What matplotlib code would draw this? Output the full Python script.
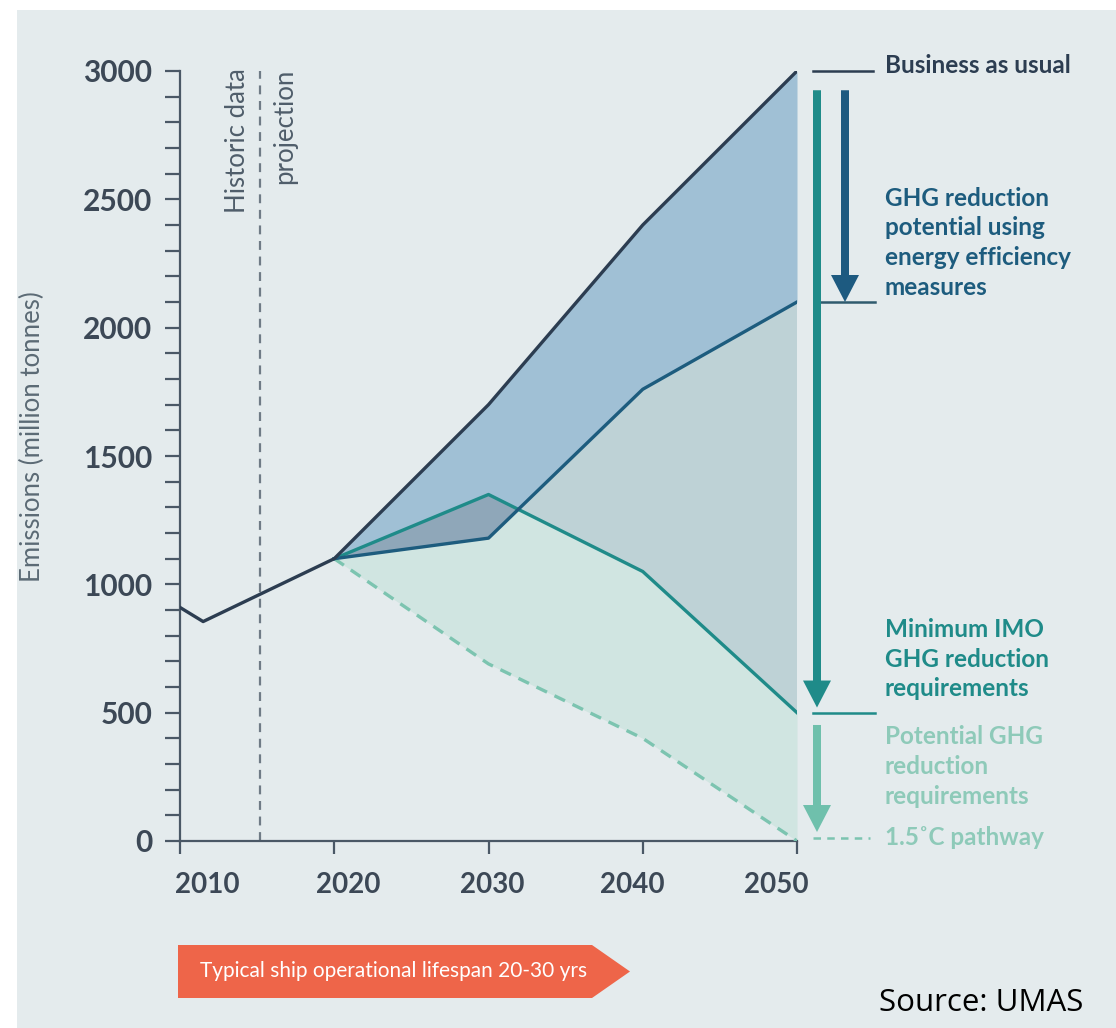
import numpy as np
import matplotlib
matplotlib.use("Agg")
import matplotlib.pyplot as plt
from matplotlib.patches import Rectangle, Polygon, FancyArrow
from matplotlib.transforms import ScaledTranslation

plt.rcParams["font.family"] = ["Lato", "DejaVu Sans"]

############### DATA ################
hist_years = [2010, 2011.5, 2020]
hist_vals = [910, 855, 1100]

proj_years = [2020, 2030, 2040, 2050]
bau = [1100, 1700, 2400, 3000]          # business as usual
efficiency = [1100, 1180, 1760, 2100]   # with energy efficiency measures
imo_min = [1100, 1350, 1050, 500]       # minimum IMO requirement
pathway_15 = [1100, 690, 400, 0]        # 1.5C pathway

divider_year = 2015.2
x_ticks = [2010, 2020, 2030, 2040, 2050]
y_ticks = [0, 500, 1000, 1500, 2000, 2500, 3000]

############### COLOURS ################
bg = "#e4ebed"
navy = "#2c3d51"
blue = "#1d5c7e"
teal = "#1f8b89"
green = "#7cc4b0"
green_txt = "#8ecab9"
axis_col = "#4a5866"

W, H = 1116, 1028
fig = plt.figure(figsize=(W / 100, H / 100), dpi=100, facecolor="white")

# light panel behind everything
fig.patches.append(Rectangle((17 / W, 0), 1, (H - 10) / H, transform=fig.transFigure,
                             facecolor=bg, edgecolor="none", zorder=-10))

ax = fig.add_axes([180 / W, (H - 841) / H, (797 - 180) / W, 770 / H])
ax.set_facecolor("none")

px = np.array(proj_years, dtype=float)
b = np.array(bau, dtype=float)
e = np.array(efficiency, dtype=float)
m = np.array(imo_min, dtype=float)
p = np.array(pathway_15, dtype=float)

# shaded bands (later ones paint over earlier ones)
ax.fill_between(px, p, m, color="#d0e5e1", lw=0, zorder=1)
ax.fill_between(px, e, b, color="#a0c0d5", lw=0, zorder=1)
ax.fill_between(px, e, m, where=m >= e, interpolate=True, color="#8fa7b9", lw=0, zorder=1)
ax.fill_between(px, m, e, where=e >= m, interpolate=True, color="#bed2d6", lw=0, zorder=1)

# lines
ax.plot(px, p, color=green, lw=2.4, ls=(0, (3.5, 2.5)), zorder=3)
ax.plot(px, m, color=teal, lw=2.4, zorder=4)
ax.plot(px, e, color=blue, lw=2.4, zorder=5)
ax.plot(hist_years + proj_years[1:], hist_vals + bau[1:], color=navy, lw=2.4, zorder=6)

# historic / projection divider
ax.axvline(divider_year, color="#6f7b86", lw=1.6, ls=(0, (4, 3)), zorder=2)
ax.text(divider_year - 1.5, 3010, "Historic data", rotation=90, ha="center", va="top",
        fontsize=18.5, color="#4f5d6a")
ax.text(divider_year + 1.6, 3010, "projection", rotation=90, ha="center", va="top",
        fontsize=18.5, color="#4f5d6a")

# axes styling
ax.set_xlim(2010, 2050)
ax.set_ylim(0, 3000)
ax.set_xticks(x_ticks)
ax.set_yticks(y_ticks)
ax.set_yticks(np.arange(0, 3001, 100), minor=True)
for s in ["top", "right"]:
    ax.spines[s].set_visible(False)
for s in ["left", "bottom"]:
    ax.spines[s].set_color(axis_col)
    ax.spines[s].set_linewidth(1.6)
ax.tick_params(axis="y", which="both", direction="out", length=11, width=1.6,
               color=axis_col, pad=9, labelsize=21.5)
ax.tick_params(axis="x", direction="out", length=9, width=1.6, color=axis_col, pad=13,
               labelsize=20)
ax.tick_params(labelcolor="#3c4856")
for lab in ax.get_xticklabels() + ax.get_yticklabels():
    lab.set_fontweight("bold")

# the year labels in the original sit on a slightly tighter spacing than the ticks
label_shift_px = [27, 14, 4, -10, -21]
for lab, dx in zip(ax.get_xticklabels(), label_shift_px):
    lab.set_transform(lab.get_transform() + ScaledTranslation(dx / 100, 0, fig.dpi_scale_trans))

ax.set_ylabel("Emissions (million tonnes)", fontsize=18.5, color="#5b6a75")
ax.yaxis.set_label_coords((45 - 180) / 617, (841 - 437) / 770)

############### RIGHT SIDE ANNOTATIONS ##################
def yr(pix):
    return 2010 + (pix - 180) / 15.425

# reference ticks at the right
ax.plot([yr(813), yr(873)], [bau[-1], bau[-1]], color=navy, lw=1.8, clip_on=False)
ax.plot([yr(818), yr(875)], [efficiency[-1], efficiency[-1]], color="#2f5b6e", lw=1.8, clip_on=False)
ax.plot([yr(813), yr(875)], [imo_min[-1], imo_min[-1]], color=teal, lw=1.8, clip_on=False)
ax.plot([yr(813), yr(870)], [pathway_15[-1] + 10, pathway_15[-1] + 10], color=green,
        lw=1.8, ls=(0, (3, 2.5)), clip_on=False)

# arrows
hl = 27 / 0.25667
ax.add_patch(FancyArrow(yr(845), 2925, 0, efficiency[-1] - 2925, width=8 / 15.425,
                        head_width=28 / 15.425, head_length=hl, length_includes_head=True,
                        color="#1d5a80", lw=0, clip_on=False, zorder=7))
ax.add_patch(FancyArrow(yr(817), 2925, 0, imo_min[-1] + 20 - 2925, width=8 / 15.425,
                        head_width=28 / 15.425, head_length=hl, length_includes_head=True,
                        color=teal, lw=0, clip_on=False, zorder=7))
ax.add_patch(FancyArrow(yr(817), 452, 0, 35 - 452, width=8 / 15.425,
                        head_width=28 / 15.425, head_length=hl, length_includes_head=True,
                        color="#6fc0ac", lw=0, clip_on=False, zorder=7))

tx = yr(885)
fs = 17.5
ax.text(tx, 3022, "Business as usual", ha="left", va="center", fontsize=fs,
        fontweight="bold", color=navy, clip_on=False)
ax.text(tx, 2550, "GHG reduction\npotential using\nenergy efficiency\nmeasures", ha="left",
        va="top", fontsize=fs, fontweight="bold", color=blue, linespacing=1.36, clip_on=False)
ax.text(tx, 870, "Minimum IMO\nGHG reduction\nrequirements", ha="left", va="top",
        fontsize=fs, fontweight="bold", color=teal, linespacing=1.36, clip_on=False)
ax.text(tx, 452, "Potential GHG\nreduction\nrequirements", ha="left", va="top",
        fontsize=fs, fontweight="bold", color=green_txt, linespacing=1.36, clip_on=False)
ax.text(tx, 12, "1.5˚C pathway", ha="left", va="center", fontsize=fs,
        fontweight="bold", color=green_txt, clip_on=False)

############### LIFESPAN ARROW ##################
arrow_px = [(178, 945), (592, 945), (630, 971.5), (592, 998), (178, 998)]
fig.patches.append(Polygon([(x / W, 1 - y / H) for x, y in arrow_px], closed=True,
                           transform=fig.transFigure, facecolor="#ee6549", edgecolor="none"))
fig.text(200 / W, 1 - 971 / H, "Typical ship operational lifespan 20-30 yrs", ha="left",
         va="center", fontsize=15, color="white")

fig.text(1083 / W, 1 - 1003 / H, "Source: UMAS", ha="right", va="center", fontsize=22.5,
         color="black", family=["Open Sans", "DejaVu Sans"])

plt.savefig("out.png", dpi=100, facecolor=fig.get_facecolor())
